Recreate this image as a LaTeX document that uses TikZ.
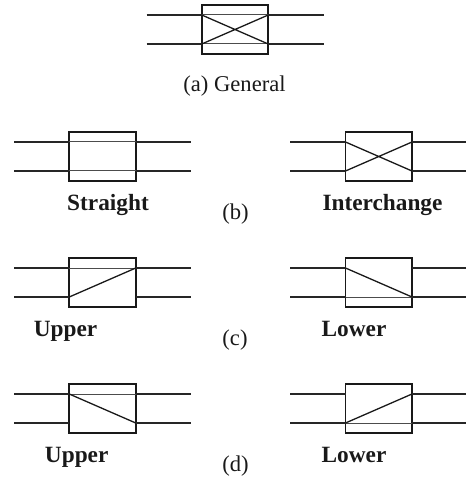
\documentclass[tikz,border=0pt]{standalone}
\usepackage{fontspec}
\setmainfont{Liberation Serif}
\tikzset{
  x=1pt,y=-1pt,
  wire/.style={line width=1.6pt,draw=black!85},
  inner/.style={line width=1pt,draw=black!70},
  diag/.style={line width=1.3pt,draw=black!90},
  swbox/.style={draw=black!90,line width=1.7pt,minimum width=66.5pt,minimum height=49pt,inner sep=0pt,outer sep=0pt},
  plain/.style={font=\fontsize{22.6pt}{24pt}\selectfont,anchor=base,inner sep=0pt,text=black!90},
  strong/.style={plain,font=\fontsize{23.3pt}{24pt}\selectfont\bfseries}
}
% #1 name, #2 box centre x, #3 box top y
\newcommand{\swunit}[3]{%
  \node[swbox] (#1) at (#2,#3+24.5) {};
  \coordinate (#1ul) at (#2-33.25,#3+10);
  \coordinate (#1ur) at (#2+33.25,#3+10);
  \coordinate (#1ll) at (#2-33.25,#3+39);
  \coordinate (#1lr) at (#2+33.25,#3+39);
  \coordinate (#1uL) at (#2-88.5,#3+10);
  \coordinate (#1uR) at (#2+88.5,#3+10);
  \coordinate (#1lL) at (#2-88.5,#3+39);
  \coordinate (#1lR) at (#2+88.5,#3+39);
  \draw[wire] (#1uL) -- (#1ul) (#1ur) -- (#1uR) (#1lL) -- (#1ll) (#1lr) -- (#1lR);
}
\begin{document}
\begin{tikzpicture}
\useasboundingbox (0,0) rectangle (465,478);
\swunit{ga}{235}{5}
\swunit{st}{102.5}{132}
\swunit{ic}{378.75}{132}
\swunit{cu}{102.5}{258}
\swunit{cl}{378.75}{258}
\swunit{du}{102.5}{384}
\swunit{dl}{378.75}{384}
\draw[inner] (gaul) -- (gaur) (gall) -- (galr);
\draw[diag] (gaul) -- (galr) (gall) -- (gaur);
\draw[inner] (stul) -- (stur) (stll) -- (stlr);
\draw[diag] (icul) -- (iclr) (icll) -- (icur);
\draw[inner] (cuul) -- (cuur);
\draw[diag] (cull) -- (cuur);
\draw[inner] (clll) -- (cllr);
\draw[diag] (clul) -- (cllr);
\draw[inner] (duul) -- (duur);
\draw[diag] (duul) -- (dulr);
\draw[inner] (dlll) -- (dllr);
\draw[diag] (dlll) -- (dlur);
\node[plain] (ta) at (234.5,92) {(a) General};
\node[strong] (tst) at (108,210) {Straight};
\node[strong] (tic) at (382.5,210) {Interchange};
\node[plain] (tb) at (235.5,219) {(b)};
\node[strong] (tcu) at (65.5,336) {Upper};
\node[strong] (tcl) at (354,336) {Lower};
\node[plain] (tc) at (235,345) {(c)};
\node[strong] (tdu) at (76.7,462) {Upper};
\node[strong] (tdl) at (354,462) {Lower};
\node[plain] (td) at (235.5,471) {(d)};
\end{tikzpicture}
\end{document}
